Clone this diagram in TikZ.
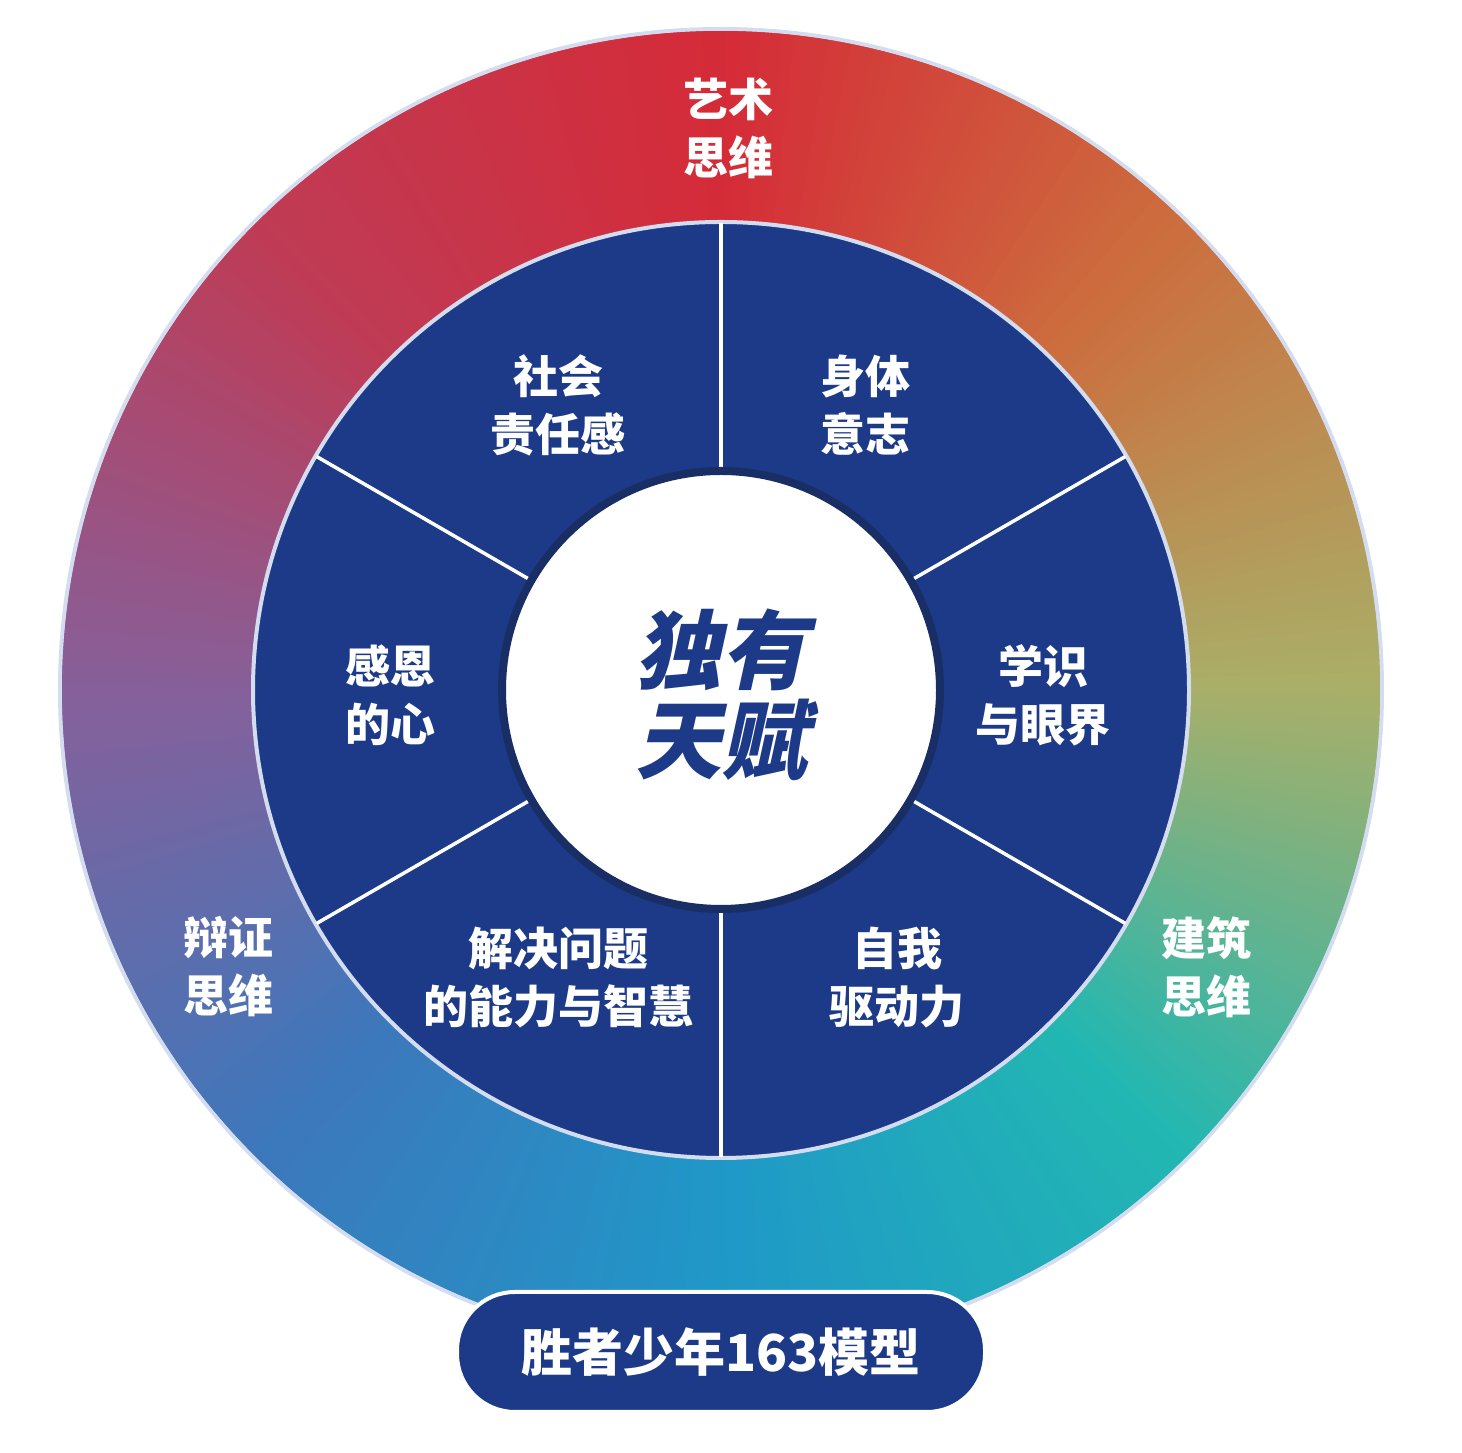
\documentclass[tikz,border=0pt]{standalone}
\usepackage{fontspec}
\setmainfont{Noto Sans CJK SC}
\newfontfamily\heavy{Noto Sans CJK SC}[FakeSlant=0.22]
\usetikzlibrary{positioning, calc}
\definecolor{cRed}{HTML}{D52B38}
\definecolor{cOrange}{HTML}{CC6E3E}
\definecolor{cOlive}{HTML}{A9AF68}
\definecolor{cTeal}{HTML}{22B7B2}
\definecolor{cSky}{HTML}{1F98C8}
\definecolor{cBlue}{HTML}{3C78BC}
\definecolor{cPurple}{HTML}{86609A}
\definecolor{cRose}{HTML}{BF3B55}
\definecolor{navy}{HTML}{1C3A87}
\definecolor{deepnavy}{HTML}{1A2E66}
\definecolor{rim}{HTML}{D4DCF0}

\begin{document}
\begin{tikzpicture}[
  x=1pt, y=1pt,
  sector/.style={font=\bfseries\fontsize{45}{58}\selectfont, text=white, align=center},
  divider/.style={white, line width=3.5pt}
]
  \useasboundingbox (0,0) rectangle (1462,1453);
  \coordinate (o) at (721,763);

  % colour ring, piece by piece
  \fill[rim] (o) circle (663);
  \foreach \a/\ca/\cb in {90/cRed/cOrange, 45/cOrange/cOlive, 0/cOlive/cTeal,
      -45/cTeal/cSky, -90/cSky/cBlue, -135/cBlue/cPurple, -180/cPurple/cRose,
      -225/cRose/cRed}
    \foreach \k in {0,...,44}{
      \pgfmathsetmacro\p{100-\k*100/45}
      \fill[\ca!\p!\cb] (o) -- ++(\a-\k+0.6:659) arc[start angle=\a-\k+0.6, end angle=\a-\k-1.4, radius=659] -- cycle;
    }

  % inner disc
  \fill[navy, draw=rim, line width=4pt] (o) circle (468);
  \foreach \t in {90,30,-30,-90,150,210}
    \draw[divider] ($(o)+(\t:222)$) -- ($(o)+(\t:467)$);
  \fill[white, draw=deepnavy, line width=8pt] (o) circle (219);

  \node[text=navy, font=\heavy\bfseries\fontsize{86}{90}\selectfont, align=center] (core) at (721,758) {独有\\天赋};

  % labels
  \node[sector] (art) at (728,1325) {艺术\\思维};
  \node[sector] (soc) at (558,1048) {社会\\责任感};
  \node[sector] (body) at (865,1048) {身体\\意志};
  \node[sector] (grat) at (390,758) {感恩\\的心};
  \node[sector] (know) at (1043,758) {学识\\与眼界};
  \node[sector] (solve) at (558,475) {解决问题\\的能力与智慧};
  \node[sector] (drive) at (897,475) {自我\\驱动力};
  \node[sector] (dial) at (228,486) {辩证\\思维};
  \node[sector] (arch) at (1206,486) {建筑\\思维};

  % bottom badge
  \node[fill=navy, draw=white, line width=4pt, rounded corners=58pt, minimum width=528pt, minimum height=120pt,
        text=white, font=\bfseries\fontsize{51}{54}\selectfont] (badge) at (721,101) {胜者少年163模型};
\end{tikzpicture}
\end{document}
